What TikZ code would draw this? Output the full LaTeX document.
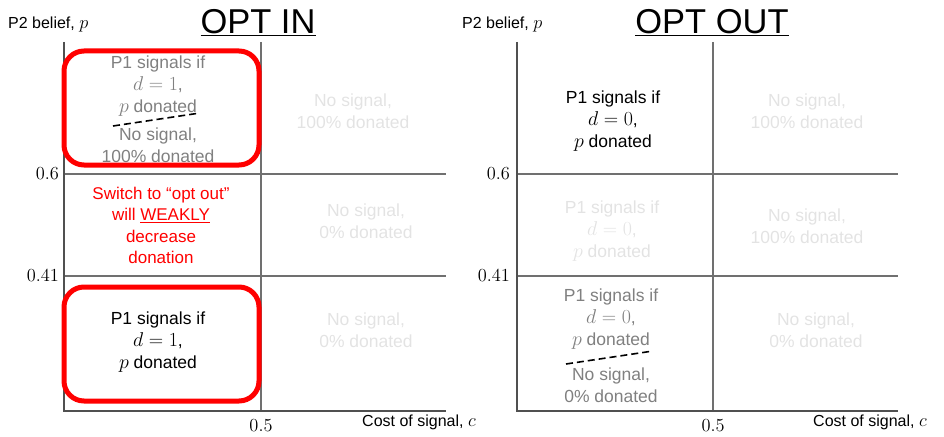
\RequirePackage{fix-cm}
\documentclass[tikz,border=0pt]{standalone}
\usepackage[no-math]{fontspec}
\setmainfont{Liberation Sans}
\definecolor{midgray}{HTML}{808080}
\definecolor{faint}{HTML}{E3E3E3}
\definecolor{axisgray}{HTML}{505050}
\definecolor{gridgray}{HTML}{707070}
\definecolor{hired}{HTML}{FF0000}
\newcommand{\mth}[1]{\scalebox{1.14}{$#1$}}
\newcommand{\tnum}[1]{\scalebox{1.15}{$#1$}}
\begin{document}
\begin{tikzpicture}[x=1pt,y=-1pt,
  cell/.style={align=center,font=\fontsize{17.5}{22}\selectfont,inner sep=0pt},
  axis/.style={draw=axisgray,line width=1.1pt},
  grid/.style={draw=gridgray,line width=1.1pt},
  redbox/.style={draw=hired,line width=5pt,rounded corners=20pt},
  cut/.style={draw=black,line width=1.6pt,dash pattern=on 7pt off 4pt},
  ylab/.style={font=\fontsize{16}{18}\selectfont,anchor=west,inner sep=0pt},
  tick/.style={font=\fontsize{16}{18}\selectfont,inner sep=0pt},
  ttl/.style={font=\fontsize{34.5}{38}\selectfont,inner sep=0pt}]
\useasboundingbox (0,0) rectangle (944,436);

% ---------- left panel ----------
\coordinate (LT) at (64,42);
\coordinate (LO) at (64,411);
\coordinate (LR) at (446,411);
\coordinate (LVt) at (261,42);
\coordinate (LVb) at (261,411);
\coordinate (LAa) at (64,174);
\coordinate (LAb) at (446,174);
\coordinate (LBa) at (64,276);
\coordinate (LBb) at (446,276);
\draw[grid] (LVt) -- (LVb);
\draw[grid] (LAa) -- (LAb);
\draw[grid] (LBa) -- (LBb);
\draw[axis] (LT) -- (LO) -- (LR);

\node[ttl] (tin) at (258,23) {\underline{OPT IN}};
\node[ylab] (ylL) at (8,24) {P2 belief, \mth{p}};
\node[tick,anchor=east] (l06) at (59,174) {\tnum{0.6}};
\node[tick,anchor=east] (l041) at (59,276) {\tnum{0.41}};
\node[tick] (l05) at (261,426) {\tnum{0.5}};
\node[ylab] (xlL) at (362,422) {Cost of signal, \mth{c}};

\node[cell,text=midgray] (L1a) at (158,86) {P1 signals if\\\mth{d=1},\\\mth{p} donated};
\node[cell,text=midgray] (L1b) at (158,145) {No signal,\\100\% donated};
\coordinate (Lc1) at (113,126);
\coordinate (Lc2) at (200,113);
\draw[cut] (Lc1) -- (Lc2);
\draw[redbox] (64,51) rectangle (259,165);

\node[cell,text=faint] (L2) at (353,111) {No signal,\\100\% donated};

\node[cell,text=hired,font=\fontsize{17}{21.6}\selectfont] (L3) at (161,225.5) {Switch to “opt out”\\will \underline{WEAKLY}\\decrease\\donation};
\node[cell,text=faint] (L4) at (366,221) {No signal,\\0\% donated};

\node[cell,text=black] (L5) at (158,342) {P1 signals if\\\mth{d=1},\\\mth{p} donated};
\draw[redbox] (64,287) rectangle (259,401);
\node[cell,text=faint] (L6) at (366,330) {No signal,\\0\% donated};

% ---------- right panel ----------
\coordinate (RT) at (517,42);
\coordinate (RO) at (517,411);
\coordinate (RR) at (898,411);
\coordinate (RVt) at (713,42);
\coordinate (RVb) at (713,411);
\coordinate (RAa) at (517,174);
\coordinate (RAb) at (898,174);
\coordinate (RBa) at (517,276);
\coordinate (RBb) at (898,276);
\draw[grid] (RVt) -- (RVb);
\draw[grid] (RAa) -- (RAb);
\draw[grid] (RBa) -- (RBb);
\draw[axis] (RT) -- (RO) -- (RR);

\node[ttl] (tout) at (712,23) {\underline{OPT OUT}};
\node[ylab] (ylR) at (462,24) {P2 belief, \mth{p}};
\node[tick,anchor=east] (r06) at (510,174) {\tnum{0.6}};
\node[tick,anchor=east] (r041) at (510,276) {\tnum{0.41}};
\node[tick] (r05) at (713,426) {\tnum{0.5}};
\node[ylab] (xlR) at (813,422) {Cost of signal, \mth{c}};

\node[cell,text=black] (R1) at (613,121) {P1 signals if\\\mth{d=0},\\\mth{p} donated};
\node[cell,text=faint] (R2) at (807,111) {No signal,\\100\% donated};
\node[cell,text=faint] (R3) at (612,231) {P1 signals if\\\mth{d=0},\\\mth{p} donated};
\node[cell,text=faint] (R4) at (807,226.5) {No signal,\\100\% donated};
\node[cell,text=midgray] (R5a) at (611,319) {P1 signals if\\\mth{d=0},\\\mth{p} donated};
\node[cell,text=midgray] (R5b) at (611,385) {No signal,\\0\% donated};
\coordinate (Rc1) at (566,364);
\coordinate (Rc2) at (653,351);
\draw[cut] (Rc1) -- (Rc2);
\node[cell,text=faint] (R6) at (816,330) {No signal,\\0\% donated};
\end{tikzpicture}
\end{document}
